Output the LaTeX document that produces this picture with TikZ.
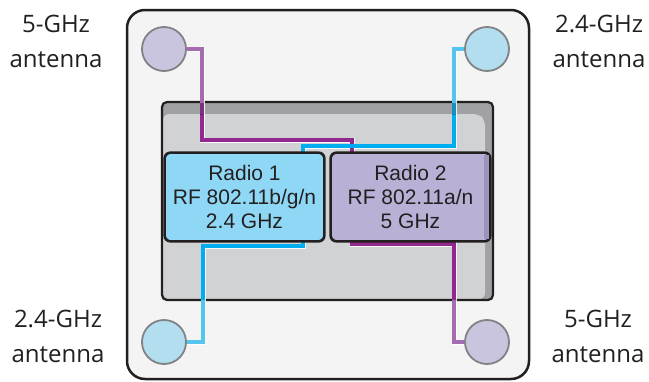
\documentclass[tikz,border=0pt]{standalone}
\usepackage{fontspec}
\setmainfont{Liberation Sans}
\newfontfamily\labelfont{Open Sans}
\definecolor{outerfill}{HTML}{F4F4F4}
\definecolor{edgecol}{HTML}{231F20}
\definecolor{banddark}{HTML}{A0A1A4}
\definecolor{bandlight}{HTML}{D1D2D4}
\definecolor{rOne}{HTML}{8ED8F6}
\definecolor{rTwo}{HTML}{B9B0D6}
\definecolor{rTwoShade}{HTML}{9D94BB}
\definecolor{antBlue}{HTML}{B3DEF0}
\definecolor{antPurple}{HTML}{C9C5DF}
\definecolor{antEdge}{HTML}{808285}
\definecolor{blueSat}{HTML}{00AEEF}
\definecolor{blueLight}{HTML}{55C4EE}
\definecolor{purpSat}{HTML}{92278F}
\definecolor{purpLight}{HTML}{A56DB0}
\definecolor{txt}{HTML}{231F20}
\tikzset{
  antenna/.style={circle, draw=antEdge, line width=1.8pt, minimum size=44pt, inner sep=0pt},
  radiobox/.style={draw=edgecol, line width=1.6pt, rounded corners=6pt, minimum width=159pt, minimum height=88pt, inner sep=0pt, align=center, text=txt, font=\fontsize{21}{24}\selectfont},
  lbl/.style={align=center, text=txt, font=\labelfont\fontsize{24}{35}\selectfont, inner sep=0pt, anchor=base},
  halo/.style={draw=white, opacity=0.85, line width=5pt},
  wire/.style={line width=3.2pt}
}
\begin{document}
\begin{tikzpicture}[x=1pt,y=-1pt]
\useasboundingbox (0,0) rectangle (649,381);
% outer case
\draw[fill=outerfill, draw=edgecol, line width=2.5pt, rounded corners=18pt] (127,10) rectangle (529,379);
% inner board
\path[fill=banddark, rounded corners=5pt] (162,102) rectangle (493,300);
\path[fill=bandlight, rounded corners=6pt] (163,114) -- (479,114) -- (485,120) -- (485,299) -- (163,299) -- cycle;
\draw[draw=edgecol, line width=2.2pt, rounded corners=5pt] (162,102) rectangle (493,300);
% antennas
\node[antenna, fill=antPurple] (a5top) at (164,49) {};
\node[antenna, fill=antBlue] (a24top) at (487,49) {};
\node[antenna, fill=antBlue] (a24bot) at (164,342) {};
\node[antenna, fill=antPurple] (a5bot) at (487,342) {};
% radios
\node[radiobox, fill=rOne] (r1) at (244.5,197) {Radio 1\\RF 802.11b/g/n\\2.4 GHz};
\node[radiobox, fill=rTwo] (r2) at (410.5,197) {};
\path[fill=rTwoShade] (484,155) rectangle (489,239);
\node[radiobox, draw=none] at (410.5,197) {Radio 2\\RF 802.11a/n\\5 GHz};
% coordinates for wires
\coordinate (p1a) at (202,49);
\coordinate (p1b) at (202,140);
\coordinate (p1c) at (352,140);
\coordinate (p2a) at (454,49);
\coordinate (p2b) at (454,146);
\coordinate (p2c) at (303,146);
\coordinate (p3a) at (303,246);
\coordinate (p3b) at (203,246);
\coordinate (p3c) at (203,342);
\coordinate (p4a) at (352,244);
\coordinate (p4b) at (454,244);
\coordinate (p4c) at (454,342);
% halos
\draw[halo] (a5top.east) -- (p1a) -- (p1b) -- (p1c) -- (p1c |- r2.north);
\draw[halo] (a24top.west) -- (p2a) -- (p2b) -- (p2c) -- (p2c |- r1.north);
\draw[halo] (p3a |- r1.south) -- (p3a) -- (p3b) -- (p3c) -- (a24bot.east);
\draw[halo] (p4a |- r2.south) -- (p4a) -- (p4b) -- (p4c) -- (a5bot.west);
% light wires
\draw[wire, draw=purpLight] (a5top.east) -- (p1a) -- (p1b) -- (p1c) -- (p1c |- r2.north);
\draw[wire, draw=blueLight] (a24top.west) -- (p2a) -- (p2b) -- (p2c) -- (p2c |- r1.north);
\draw[wire, draw=blueLight] (p3a |- r1.south) -- (p3a) -- (p3b) -- (p3c) -- (a24bot.east);
\draw[wire, draw=purpLight] (p4a |- r2.south) -- (p4a) -- (p4b) -- (p4c) -- (a5bot.west);
% saturated inside board
\begin{scope}
\clip (163,114) rectangle (485,299);
\draw[wire, draw=purpSat] (a5top.east) -- (p1a) -- (p1b) -- (p1c) -- (p1c |- r2.north);
\draw[wire, draw=blueSat] (a24top.west) -- (p2a) -- (p2b) -- (p2c) -- (p2c |- r1.north);
\draw[wire, draw=blueSat] (p3a |- r1.south) -- (p3a) -- (p3b) -- (p3c) -- (a24bot.east);
\draw[wire, draw=purpSat] (p4a |- r2.south) -- (p4a) -- (p4b) -- (p4c) -- (a5bot.west);
\end{scope}
\begin{scope}
\clip (163,103) rectangle (492,114);
\draw[wire, draw=purpSat!70!black, opacity=0.7] (p1a) -- (p1b);
\draw[wire, draw=blueSat!70!black, opacity=0.7] (p2a) -- (p2b);
\end{scope}
% redraw radio outlines over wire ends
\draw[draw=edgecol, line width=1.6pt, rounded corners=6pt] (r1.north west) rectangle (r1.south east);
\draw[draw=edgecol, line width=1.6pt, rounded corners=6pt] (r2.north west) rectangle (r2.south east);
% labels
\node[lbl] (l1) at (56,67) {5-GHz\\antenna};
\node[lbl] (l2) at (599,67) {2.4-GHz\\antenna};
\node[lbl] (l3) at (58,362) {2.4-GHz\\antenna};
\node[lbl] (l4) at (598,362) {5-GHz\\antenna};
\end{tikzpicture}
\end{document}
